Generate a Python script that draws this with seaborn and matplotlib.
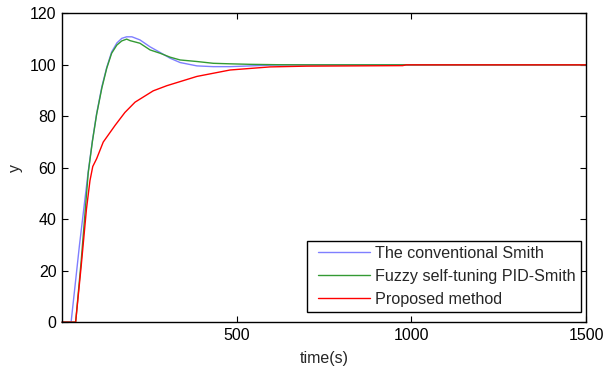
import numpy as np
import pandas as pd
import matplotlib
matplotlib.use("Agg")
import matplotlib.pyplot as plt
import seaborn as sns
from matplotlib.legend_handler import HandlerLine2D

# ─── data ───────────────────────────────────────────────────────────────────

SERIES = ["The conventional Smith", "Fuzzy self-tuning PID-Smith", "Proposed method"]

smith_t = [0, 26, 50, 75, 87, 99, 114, 128, 142, 157, 171, 185, 200, 223, 252,
           281, 309, 338, 386, 433, 481, 540, 600, 650, 1500]
smith_y = [0, 0, 30, 58.5, 70.5, 81, 91.5, 99, 105, 108.5, 110.3, 110.9, 110.9, 109.7,
           107, 104.8, 102.6, 100.9, 99.6, 99.3, 99.3, 99.6, 99.9, 100, 100]

fuzzy_t = [0, 39, 55, 75, 87, 99, 114, 128, 142, 157, 171, 185, 195, 223, 252, 281,
           309, 338, 386, 433, 481, 540, 620, 700, 1500]
fuzzy_y = [0, 0, 24, 58, 70.3, 80.7, 91, 98.7, 104.5, 107.7, 109.3, 110, 109.4, 108.4,
           105.8, 104.5, 103, 101.9, 101.3, 100.6, 100.4, 100.2, 100.05, 100, 100]

prop_t = [0, 39, 55, 70, 80, 88, 99, 118, 152, 180, 209, 261, 300, 386, 481, 595,
          700, 975, 985, 1500]
prop_y = [0, 0, 22, 44, 55, 60.5, 63.5, 70, 76.5, 81.5, 85.5, 89.9, 91.9, 95.5, 98,
          99.2, 99.5, 99.7, 100, 100]

COLORS = ["#7f7fff", "#339a33", "#ff0000"]
X_TICKS = [500, 1000, 1500]
Y_TICKS = [0, 20, 40, 60, 80, 100, 120]

# ─── plot ───────────────────────────────────────────────────────────────────

df = pd.concat([
    pd.DataFrame({"t": smith_t, "y": smith_y, "method": SERIES[0]}),
    pd.DataFrame({"t": fuzzy_t, "y": fuzzy_y, "method": SERIES[1]}),
    pd.DataFrame({"t": prop_t, "y": prop_y, "method": SERIES[2]}),
], ignore_index=True)

sns.set_style("ticks")
plt.rcParams["font.family"] = ["Liberation Sans", "DejaVu Sans"]

fig, ax = plt.subplots(figsize=(6.08, 3.72), dpi=100)
fig.subplots_adjust(left=0.102, right=0.964, top=0.964, bottom=0.134)

sns.lineplot(data=df, x="t", y="y", hue="method", palette=COLORS,
             estimator=None, sort=False, lw=1.0, ax=ax)
for ln in ax.lines:
    ln.set_clip_on(False)

ax.set_xlim(0, 1500)
ax.set_ylim(0, 120)
ax.set_xticks(X_TICKS)
ax.set_yticks(Y_TICKS)
ax.set_xlabel("time(s)", fontsize=11.5, labelpad=6)
ax.set_ylabel("y", fontsize=11.5, labelpad=5)
ax.tick_params(direction="in", length=4, width=0.8, labelsize=11.5, pad=4,
               top=True, right=True, colors="black")
for s in ax.spines.values():
    s.set_visible(True)
    s.set_color("black")
    s.set_linewidth(1.0)

# MATLAB-style legend: short sample line with a gap on both sides
leg = ax.legend(loc="lower right", bbox_to_anchor=(0.990, 0.033), borderaxespad=0,
                fontsize=11.6, numpoints=2, handlelength=4.0, handletextpad=-0.06,
                handler_map={plt.Line2D: HandlerLine2D(numpoints=2, marker_pad=0.4)},
                labelspacing=0.5, borderpad=0.3, fancybox=False, framealpha=1,
                edgecolor="black", title=None)
leg.get_frame().set_linewidth(1.0)

plt.savefig("out.png", dpi=100)
plt.close()
